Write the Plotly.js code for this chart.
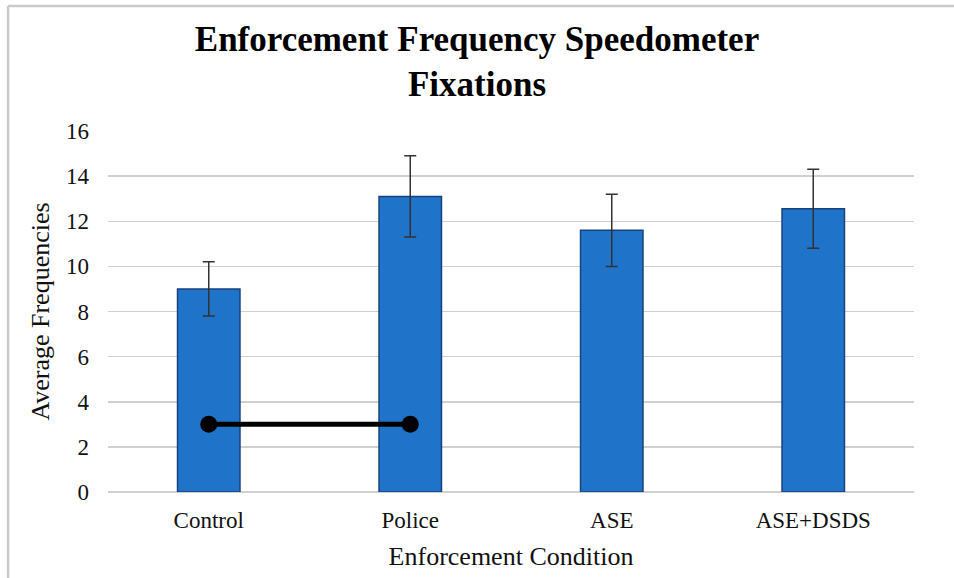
<!DOCTYPE html>
<html>
<head>
<meta charset="utf-8">
<script src="https://cdn.plot.ly/plotly-3.0.1.min.js"></script>
<style>
  html, body { margin: 0; padding: 0; background: #ffffff; }
  #chart { width: 954px; height: 578px; }
</style>
</head>
<body>
<div id="chart"></div>
<script>
// ---- data ----
var categories = ["Control", "Police", "ASE", "ASE+DSDS"];
var meanFreq = [9.0, 13.1, 11.6, 12.55];
var errFreq = [1.2, 1.8, 1.6, 1.75];
var sigPair = ["Control", "Police"];
var sigLevel = [3, 3];
var yTicks = [0, 2, 4, 6, 8, 10, 12, 14, 16];

var serif = "Liberation Serif, Times New Roman, serif";

var bars = {
  type: "bar",
  x: categories,
  y: meanFreq,
  marker: { color: "#1f73c8", line: { color: "#17427f", width: 1.5 } },
  error_y: { type: "data", array: errFreq, visible: true, color: "#333333", thickness: 1.5, width: 6 },
  hoverinfo: "x+y",
  showlegend: false
};

var sig = {
  type: "scatter",
  mode: "lines+markers",
  x: sigPair,
  y: sigLevel,
  line: { color: "#000000", width: 5 },
  marker: { color: "#000000", size: 17 },
  showlegend: false,
  hoverinfo: "skip"
};

var frameColor = "#c9c9c9";

var layout = {
  width: 954,
  height: 578,
  paper_bgcolor: "#ffffff",
  plot_bgcolor: "#ffffff",
  margin: { l: 108, r: 40, t: 131, b: 86 },
  bargap: 0.69,
  title: {
    text: "<b>Enforcement Frequency Speedometer<br>Fixations</b>",
    font: { family: serif, size: 35, color: "#000000" },
    x: 0.5, xanchor: "center",
    yref: "container",
    y: 0.912, yanchor: "middle"
  },
  xaxis: {
    type: "category",
    tickfont: { family: serif, size: 23, color: "#111111" },
    showgrid: false,
    showline: false,
    ticks: "",
    ticklabelstandoff: 12,
    title: { text: "Enforcement Condition", font: { family: serif, size: 26, color: "#111111" }, standoff: 14 }
  },
  yaxis: {
    range: [0, 16],
    tickvals: yTicks,
    ticktext: yTicks.map(String),
    tickfont: { family: serif, size: 23, color: "#111111" },
    showgrid: true,
    gridcolor: "#d0d0d0",
    gridwidth: 1.5,
    zeroline: true,
    zerolinecolor: "#d0d0d0",
    zerolinewidth: 1.5,
    showline: false,
    ticks: "",
    ticklabelstandoff: 18,
    title: { text: "Average Frequencies", font: { family: serif, size: 26, color: "#111111" }, standoff: 8 }
  },
  shapes: [
    { type: "line", xref: "paper", yref: "paper", x0: -0.124, x1: 1.06, y0: 1.346, y1: 1.346,
      line: { color: frameColor, width: 2.5 } },
    { type: "line", xref: "paper", yref: "paper", x0: -0.124, x1: -0.124, y0: 1.346, y1: -0.25,
      line: { color: frameColor, width: 2.5 } }
  ]
};

Plotly.newPlot("chart", [bars, sig], layout, { displayModeBar: false, staticPlot: true });
</script>
</body>
</html>
